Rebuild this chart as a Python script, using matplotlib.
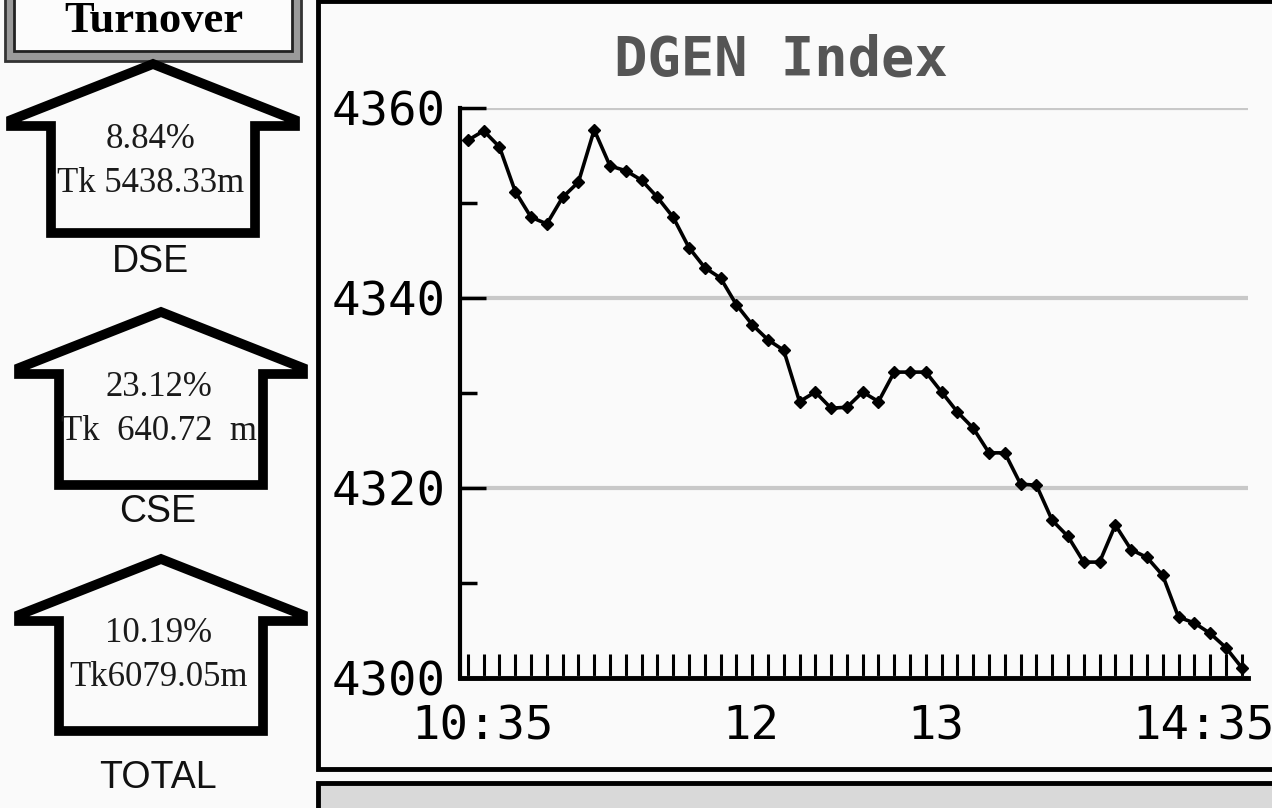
import matplotlib
matplotlib.use('Agg')
import matplotlib.pyplot as plt
from matplotlib.patches import Polygon, Rectangle

# DGEN index readings through the session (10:35 - 14:35)
dgen = [4356.6, 4357.6, 4355.9, 4351.2, 4348.5, 4347.8, 4350.6, 4352.2, 4357.7, 4353.9,
        4353.4, 4352.4, 4350.6, 4348.5, 4345.3, 4343.2, 4342.1, 4339.3, 4337.2, 4335.6,
        4334.5, 4329.1, 4330.1, 4328.4, 4328.5, 4330.1, 4329.1, 4332.2, 4332.2, 4332.2,
        4330.1, 4328.0, 4326.3, 4323.7, 4323.7, 4320.4, 4320.3, 4316.6, 4314.9, 4312.2,
        4312.2, 4316.1, 4313.5, 4312.7, 4310.8, 4306.4, 4305.8, 4304.7, 4303.2, 4301.1]
time_labels = ['10:35', '12', '13', '14:35']
time_label_idx = [0.95, 17.9, 29.6, 46.6]
y_major = [4300, 4320, 4340, 4360]
y_minor = [4310, 4330, 4350]

# turnover panel
exchanges = ['DSE', 'CSE', 'TOTAL']
change_txt = ['8.84%', '23.12%', '10.19%']
turnover_txt = ['Tk 5438.33m', 'Tk  640.72  m', 'Tk6079.05m']

BG = '#fafafa'
W, H = 1272, 808


def arrow_outline(cx, top, bottom, head=62, wing=142, shaft=102):
    # house-shaped up arrow, wing tips cut off square
    wy = top + head
    return [(cx, top), (cx + wing, wy - 6), (cx + wing, wy), (cx + shaft, wy),
            (cx + shaft, bottom), (cx - shaft, bottom), (cx - shaft, wy),
            (cx - wing, wy), (cx - wing, wy - 6)]


def main():
    plt.rcParams['font.family'] = 'DejaVu Sans Mono'
    fig = plt.figure(figsize=(W / 100, H / 100), dpi=100, facecolor=BG)

    # pixel-space layer for the frames and the turnover arrows
    bg = fig.add_axes([0, 0, 1, 1], zorder=0)
    bg.set_xlim(0, W)
    bg.set_ylim(H, 0)
    bg.axis('off')

    bg.add_patch(Rectangle((318, 1), 1000, 768, fc=BG, ec='black', lw=3.5))
    bg.add_patch(Rectangle((318, 783), 1000, 40, fc='#d9d9d9', ec='black', lw=3.5))

    bg.add_patch(Rectangle((5, -6), 296, 67, fc='#9a9a9a', ec='#333333', lw=2))
    bg.add_patch(Rectangle((14, -6), 278, 57, fc='#fcfcfc', ec='#222222', lw=2))
    bg.text(154, 21, 'Turnover', family='Liberation Serif', weight='bold',
            size=32, ha='center', va='center')

    arrow_cx = [153, 161, 161]
    arrow_top = [64, 312, 559]
    arrow_bottom = [233, 485, 731]
    label_y = [262, 512, 778]
    for k, name in enumerate(exchanges):
        cx, top = arrow_cx[k], arrow_top[k]
        bg.add_patch(Polygon(arrow_outline(cx, top, arrow_bottom[k]), closed=True,
                             fc='none', ec='black', lw=7, joinstyle='miter'))
        bg.text(cx - 2, top + 75, change_txt[k], family='Liberation Serif',
                size=25, ha='center', va='center', color='#1a1a1a')
        bg.text(cx - 2, top + 119, turnover_txt[k], family='Liberation Serif',
                size=25, ha='center', va='center', color='#1a1a1a')
        bg.text(cx - 3, label_y[k], name, family='Liberation Sans',
                size=27, ha='center', va='center', color='#111111')

    fig.text(781 / W, 1 - 60 / H, 'DGEN Index', ha='center', va='center',
             weight='bold', size=40, color='#555555')

    # index chart
    ax = fig.add_axes([460 / W, 1 - 678 / H, (1248 - 460) / W, (678 - 108) / H], zorder=2)
    ax.patch.set_visible(False)
    ax.plot(range(len(dgen)), dgen, color='black', lw=2.6, marker='D', ms=6.5,
            clip_on=False, zorder=3)
    ax.set_xlim(-0.5, 49.4)
    ax.set_ylim(4300, 4360)

    for side in ['top', 'right']:
        ax.spines[side].set_visible(False)
    ax.spines['left'].set_linewidth(3)
    ax.spines['bottom'].set_linewidth(3.5)

    ax.set_yticks(y_major)
    ax.set_yticks(y_minor, minor=True)
    ax.tick_params(axis='y', which='major', direction='in', length=19, width=2.5,
                   labelsize=34, pad=10)
    ax.tick_params(axis='y', which='minor', direction='in', length=12, width=2.5)
    ax.grid(axis='y', which='major', color='#c8c8c8', lw=3, zorder=1)

    ax.set_xticks(time_label_idx, time_labels)
    ax.set_xticks(range(len(dgen)), minor=True)
    ax.tick_params(axis='x', which='major', length=0, labelsize=34, pad=19)
    ax.tick_params(axis='x', which='minor', direction='in', length=17, width=2.2)

    fig.savefig('out.png', dpi=100, facecolor=BG)


if __name__ == '__main__':
    main()
